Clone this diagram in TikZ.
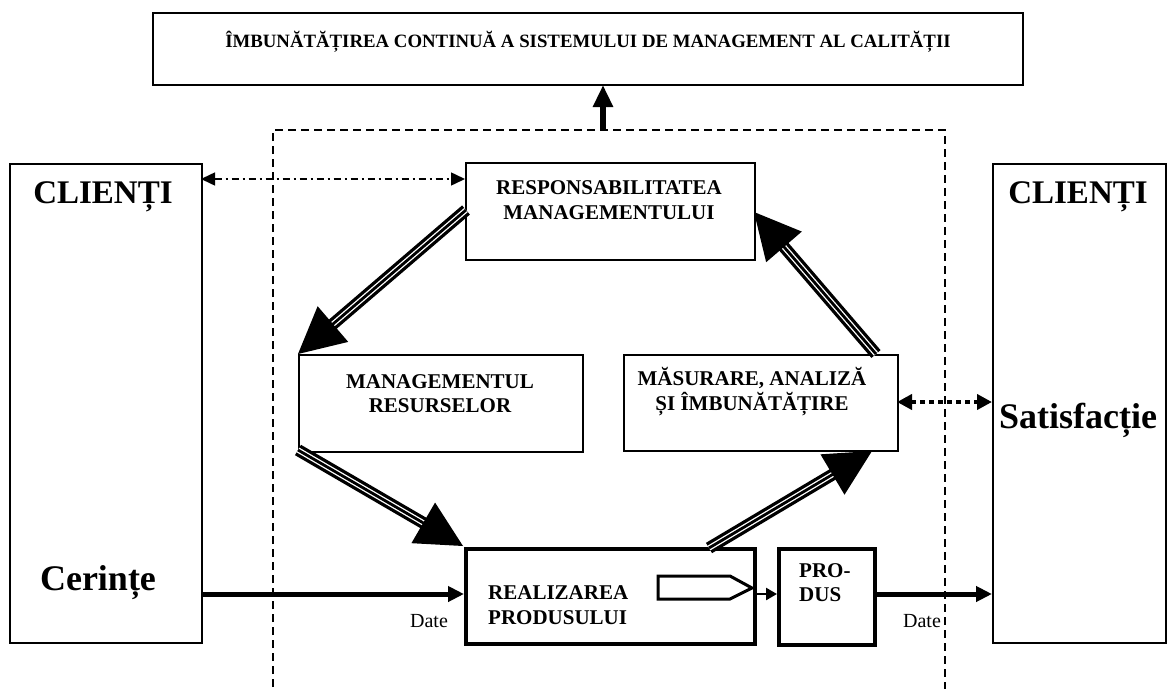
\documentclass[tikz,border=0pt]{standalone}
\usepackage{fontspec}
\setmainfont{Liberation Serif}
\usetikzlibrary{arrows.meta,calc}

% shaft of three parallel strokes with a large solid head
\newcommand\tripleArrow[2]{%
  \coordinate (tahead) at ($(#2)!46pt!(#1)$);
  \coordinate (tashaft) at ($(#2)!42pt!(#1)$);
  \draw[line width=12pt] (#1) -- (tashaft);
  \draw[line width=5.4pt, white] (#1) -- (tashaft);
  \draw[line width=2.8pt] (#1) -- (tashaft);
  \fill ($(tahead)!23.5pt!90:(#2)$) -- (#2) -- ($(tahead)!23.5pt!-90:(#2)$) -- cycle;
}

\tikzset{
  box/.style={draw, line width=1.5pt, inner sep=0pt},
  heavybox/.style={draw, line width=4pt, inner sep=0pt},
  lbl/.style={font=\fontsize{21}{24}\selectfont\bfseries, inner sep=0pt},
  biglbl/.style={font=\fontsize{33}{36}\selectfont\bfseries, inner sep=0pt},
  wordlbl/.style={font=\fontsize{36}{40}\selectfont\bfseries, inner sep=0pt},
  datelbl/.style={font=\fontsize{20}{24}\selectfont, inner sep=0pt},
  frame/.style={line width=1.5pt, dash pattern=on 8pt off 5pt},
  flow/.style={line width=5pt, -{Triangle[length=16pt,width=15pt]}},
}

\begin{document}
\begin{tikzpicture}[x=1pt, y=-1pt]
\useasboundingbox[fill=white] (0,0) rectangle (1175,688);

% top box
\node[box, anchor=north west, minimum width=870pt, minimum height=72pt] (improve) at (152,12) {};
\node[font=\fontsize{18.8}{22}\selectfont\bfseries, inner sep=0pt, anchor=base] (improvetxt) at (588,47)
  {ÎMBUNĂTĂȚIREA CONTINUĂ A SISTEMULUI DE MANAGEMENT AL CALITĂȚII};

% dashed system boundary
\draw[frame] (273,700) -- (273,130) -- (945,130) -- (945,700);

% customers
\node[box, anchor=north west, minimum width=192pt, minimum height=479pt] (cleft) at (9,163) {};
\node[biglbl, anchor=base] (cleft-a) at (103,203) {CLIENȚI};
\node[wordlbl, anchor=base] (cleft-b) at (98,590) {Cerințe};
\node[box, anchor=north west, minimum width=173pt, minimum height=479pt] (cright) at (992,163) {};
\node[biglbl, anchor=base] (cright-a) at (1078,203) {CLIENȚI};
\node[wordlbl, anchor=base] (cright-b) at (1078,428) {Satisfacție};

% process boxes
\node[box, anchor=north west, minimum width=289pt, minimum height=97pt] (resp) at (465,162) {};
\node[lbl, anchor=base] (resp-a) at (609,194) {RESPONSABILITATEA};
\node[lbl, anchor=base] (resp-b) at (609,219) {MANAGEMENTULUI};

\node[box, anchor=north west, minimum width=284pt, minimum height=97pt] (res) at (298,354) {};
\node[lbl, anchor=base] (res-a) at (440,388) {MANAGEMENTUL};
\node[lbl, anchor=base] (res-b) at (440,412) {RESURSELOR};

\node[box, anchor=north west, minimum width=274pt, minimum height=96pt] (meas) at (623,354) {};
\node[lbl, anchor=base] (meas-a) at (752,385) {MĂSURARE, ANALIZĂ};
\node[lbl, anchor=base] (meas-b) at (752,410) {ȘI ÎMBUNĂTĂȚIRE};

\node[heavybox, anchor=north west, minimum width=289pt, minimum height=95pt] (real) at (464,547) {};
\node[lbl, anchor=base west] (real-a) at (488,599) {REALIZAREA};
\node[lbl, anchor=base west] (real-b) at (488,624) {PRODUSULUI};

\node[heavybox, anchor=north west, minimum width=96pt, minimum height=96pt] (prod) at (777,547) {};
\node[lbl, anchor=base west] (prod-a) at (799,577) {PRO-};
\node[lbl, anchor=base west] (prod-b) at (799,601) {DUS};

% output symbol inside product realisation
\draw[line width=3pt, line join=miter] (658,576) -- (730,576) -- (752,588) -- (730,599) -- (658,599) -- cycle;

% connector end points
\coordinate (up-s) at (603,130);
\coordinate (up-e) at (603,85);
\coordinate (dd-l) at (201,179);
\coordinate (dd-r) at (465,179);
\coordinate (dt-l) at (897,402);
\coordinate (dt-r) at (992,402);
\coordinate (in-l) at (201,594);
\coordinate (in-r) at (464,594);
\coordinate (mid-l) at (753,594);
\coordinate (mid-r) at (777,594);
\coordinate (out-l) at (873,594);
\coordinate (out-r) at (992,594);

\draw[line width=6pt, -{Triangle[length=22pt,width=19pt]}] (up-s) -- (up-e);
\draw[line width=1.5pt, dash pattern=on 7pt off 4pt on 2pt off 4pt,
      {Triangle[length=14pt,width=13pt]}-{Triangle[length=14pt,width=13pt]}] (dd-l) -- (dd-r);
\draw[line width=4.5pt, dash pattern=on 4.5pt off 4.5pt,
      {Triangle[length=15pt,width=15pt]}-{Triangle[length=15pt,width=15pt]}] (dt-l) -- (dt-r);
\draw[flow] (in-l) -- (in-r);
\draw[line width=2.5pt, -{Triangle[length=11pt,width=12pt]}] (mid-l) -- (mid-r);
\draw[flow] (out-l) -- (out-r);

\node[datelbl, anchor=base] (date-in) at (429,627) {Date};
\node[datelbl, anchor=base] (date-out) at (922,627) {Date};

% management cycle
\coordinate (c1s) at (466,210);
\coordinate (c1e) at (298,354);
\coordinate (c2s) at (298,450);
\coordinate (c2e) at (463,546);
\coordinate (c3s) at (709,548);
\coordinate (c3e) at (872,451);
\coordinate (c4s) at (876,354);
\coordinate (c4e) at (754,212);
\tripleArrow{c1s}{c1e}
\tripleArrow{c2s}{c2e}
\tripleArrow{c3s}{c3e}
\tripleArrow{c4s}{c4e}
\end{tikzpicture}
\end{document}
